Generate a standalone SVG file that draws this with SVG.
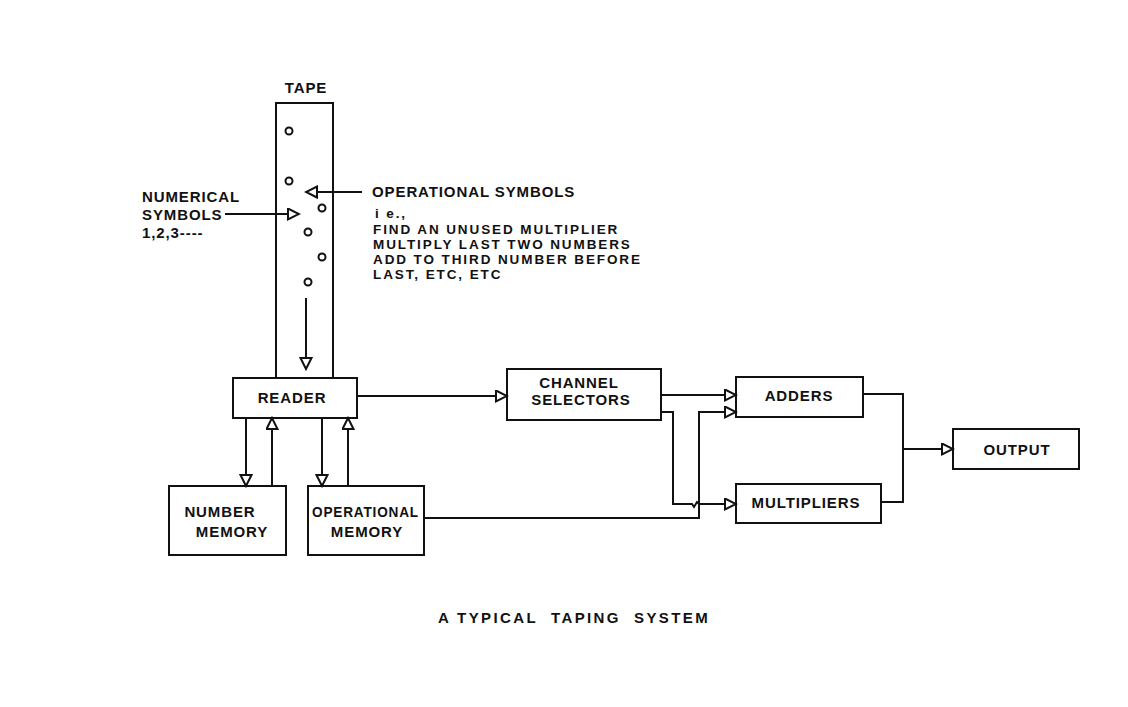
<svg xmlns="http://www.w3.org/2000/svg" width="1128" height="707" viewBox="0 0 1128 707">
<defs>
<style>
text{font-family:"Liberation Sans",Arial,sans-serif;font-weight:bold;font-size:15px;letter-spacing:0.9px;fill:#111}
.c{text-anchor:middle}
.sm{font-size:13.5px;letter-spacing:1.9px}
.box{fill:none;stroke:#111;stroke-width:2}
.ln{fill:none;stroke:#111;stroke-width:2}
.arr{marker-end:url(#ah)}
.dot{fill:#fff;stroke:#111;stroke-width:2}
.cap{font-size:15px;letter-spacing:2.4px;white-space:pre}
</style>
<marker id="ah" markerUnits="userSpaceOnUse" markerWidth="14" markerHeight="14" viewBox="-1 -1 14 14" refX="11" refY="5.5" orient="auto">
<path d="M0,0 L11,5.5 L0,11 Z" fill="#fff" stroke="#111" stroke-width="2"/>
</marker>
</defs>
<rect width="1128" height="707" fill="#fff"/>

<g id="tape">
<rect class="box" x="276" y="103" width="57" height="275"/>
<text class="c" x="306" y="93">TAPE</text>
<circle class="dot" cx="289" cy="131" r="3.5"/>
<circle class="dot" cx="289" cy="181" r="3.5"/>
<circle class="dot" cx="322" cy="208" r="3.5"/>
<circle class="dot" cx="308" cy="232" r="3.5"/>
<circle class="dot" cx="322" cy="257" r="3.5"/>
<circle class="dot" cx="308" cy="282" r="3.5"/>
</g>

<g id="numerical-label">
<text x="142" y="202">NUMERICAL</text>
<text x="142" y="220">SYMBOLS</text>
<text x="142" y="238">1,2,3----</text>
</g>

<g id="operational-label">
<text x="372" y="197">OPERATIONAL SYMBOLS</text>
<text class="sm" x="375" y="218">i e.,</text>
<text class="sm" x="373" y="233.5">FIND AN UNUSED MULTIPLIER</text>
<text class="sm" x="373" y="248.5">MULTIPLY LAST TWO NUMBERS</text>
<text class="sm" x="373" y="263.5">ADD TO THIRD NUMBER BEFORE</text>
<text class="sm" x="373" y="278.5">LAST, ETC, ETC</text>
</g>

<g id="reader">
<rect class="box" x="233" y="378" width="124" height="40" fill="#fff"/>
<text class="c" x="292" y="403">READER</text>
</g>

<g id="number-memory">
<rect class="box" x="169" y="486" width="117" height="69"/>
<text class="c" x="220" y="517">NUMBER</text>
<text class="c" x="232" y="537">MEMORY</text>
</g>

<g id="operational-memory">
<rect class="box" x="308" y="486" width="116" height="69"/>
<text x="312" y="517" textLength="107" lengthAdjust="spacingAndGlyphs">OPERATIONAL</text>
<text class="c" x="367" y="537">MEMORY</text>
</g>

<g id="channel-selectors">
<rect class="box" x="507" y="369" width="154" height="51"/>
<text class="c" x="579" y="388">CHANNEL</text>
<text class="c" x="581" y="405">SELECTORS</text>
</g>

<g id="adders">
<rect class="box" x="736" y="377" width="127" height="40"/>
<text class="c" x="799" y="401">ADDERS</text>
</g>

<g id="multipliers">
<rect class="box" x="736" y="484" width="145" height="39"/>
<text class="c" x="806" y="508">MULTIPLIERS</text>
</g>

<g id="output">
<rect class="box" x="953" y="429" width="126" height="40"/>
<text class="c" x="1017" y="455">OUTPUT</text>
</g>

<g id="connectors">
<line class="ln arr" x1="362" y1="192" x2="306" y2="192"/>
<line class="ln arr" x1="225" y1="214" x2="299" y2="214"/>
<line class="ln arr" x1="306" y1="298" x2="306" y2="369"/>
<line class="ln arr" x1="246" y1="418" x2="246" y2="486"/>
<line class="ln arr" x1="272" y1="486" x2="272" y2="418"/>
<line class="ln arr" x1="322" y1="418" x2="322" y2="486"/>
<line class="ln arr" x1="348" y1="486" x2="348" y2="418"/>
<line class="ln arr" x1="357" y1="396" x2="507" y2="396"/>
<line class="ln arr" x1="661" y1="395" x2="736" y2="395"/>
<polyline class="ln arr" points="661,412 673,412 673,504 692,504 694,507 697,502 699,504 736,504"/>
<polyline class="ln arr" points="424,518 699,518 699,412 736,412"/>
<polyline class="ln" points="863,394 903,394 903,502 881,502"/>
<line class="ln arr" x1="903" y1="449" x2="953" y2="449"/>
</g>

<text class="c cap" x="574" y="623">A TYPICAL  TAPING  SYSTEM</text>
</svg>
